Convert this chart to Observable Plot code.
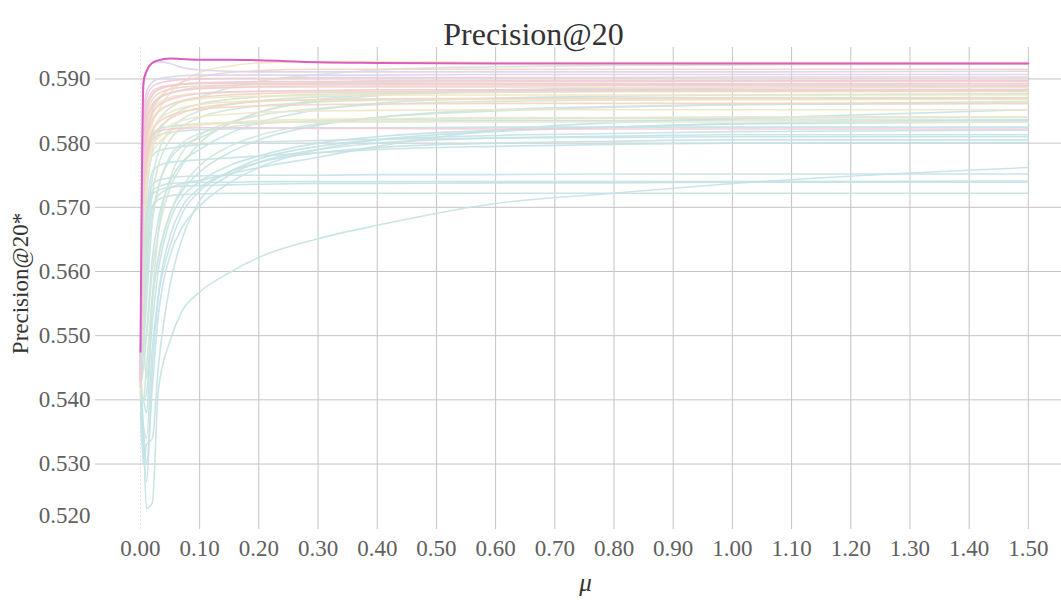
<!DOCTYPE html>
<html><head><meta charset="utf-8">
<script src="https://cdn.jsdelivr.net/npm/d3@7"></script>
<script src="https://cdn.jsdelivr.net/npm/@observablehq/plot@0.6"></script>
<style>body{margin:0;background:#fff}</style>
</head><body><div id="chart"></div>
<script>
// sampled mu values (shared by every series)
const mu = [0, .005, .01, .02, .03, .05, .07, .1, .15, .2, .3, .4, .6, .8, 1.0, 1.5];
const xTicks = [0, 0.1, 0.2, 0.3, 0.4, 0.5, 0.6, 0.7, 0.8, 0.9, 1.0, 1.1, 1.2, 1.3, 1.4, 1.5];
const yTicks = [0.52, 0.53, 0.54, 0.55, 0.56, 0.57, 0.58, 0.59];

// cyan series
const cA = [.546,.535,.5231,.5239,.5414,.5492,.5538,.5568,.5598,.5622,.5651,.5672,.5706,.5722,.5737,.5762];
const cB = [.540,.532,.5273,.5450,.5560,.5655,.5700,.5730,.5755,.5770,.5785,.5793,.5800,.5803,.5805,.5805];
const cC = [.538,.530,.5330,.5340,.5450,.5580,.5650,.5710,.5750,.5770,.5790,.5800,.5808,.5811,.5813,.5813];
const cD = [.541,.536,.5340,.5480,.5560,.5640,.5690,.5725,.5755,.5775,.5795,.5805,.5812,.5815,.5818,.5820];
const cE = [.543,.540,.5410,.5520,.5600,.5680,.5715,.5740,.5765,.5780,.5800,.5810,.5820,.5825,.5830,.5836];
const cF = [.545,.552,.5600,.5700,.5718,.5730,.5737,.5742,.5752,.5762,.5778,.5795,.5820,.5832,.5838,.5852];
const cG = [.545,.558,.5680,.5755,.5765,.5770,.5772,.5774,.5777,.5780,.5785,.5790,.5795,.5798,.5800,.5801];
const cH = [.546,.562,.5720,.5780,.5788,.5792,.5795,.5798,.5800,.5802,.5804,.5806,.5808,.5809,.5810,.5810];
const cI = [.546,.566,.5750,.5805,.5812,.5817,.5819,.5821,.5822,.5823,.5824,.5824,.5825,.5825,.5825,.5825];
const cJ = [.546,.568,.5770,.5815,.5822,.5826,.5828,.5830,.5831,.5832,.5833,.5834,.5835,.5835,.5836,.5836];
const cK = [.543,.548,.5550,.5680,.5730,.5775,.5795,.5808,.5830,.5848,.5868,.5876,.5883,.5886,.5887,.5888];
const cL = [.542,.545,.5500,.5620,.5680,.5740,.5770,.5790,.5815,.5832,.5852,.5862,.5870,.5873,.5875,.5877];
const cM = [.541,.540,.5380,.5550,.5620,.5690,.5725,.5755,.5785,.5805,.5828,.5840,.5852,.5857,.5860,.5862];
const cN = [.540,.535,.5300,.5420,.5530,.5625,.5668,.5702,.5738,.5762,.5790,.5805,.5818,.5825,.5830,.5833];
const cF1 = [.545,.550,.5600,.5700,.5712,.5718,.5720,.5721,.5722,.5722,.5722,.5722,.5722,.5722,.5722,.5722];
const cF2 = [.546,.555,.5650,.5720,.5727,.5731,.5733,.5734,.5735,.5736,.5737,.5737,.5738,.5738,.5739,.5739];
const cF3 = [.546,.556,.5660,.5725,.5732,.5737,.5738,.5739,.5739,.5740,.5740,.5740,.5740,.5740,.5740,.5741];
const cF4 = [.546,.560,.5680,.5735,.5742,.5746,.5748,.5749,.5750,.5750,.5750,.5751,.5751,.5752,.5752,.5752];
// mint series
const g1 = [.540,.562,.5740,.5815,.5835,.5855,.5865,.5872,.5886,.5896,.5907,.5914,.5919,.5921,.5922,.5923];
const g2 = [.545,.560,.5660,.5745,.5785,.5820,.5837,.5850,.5860,.5866,.5872,.5876,.5879,.5881,.5882,.5883];
const g3 = [.544,.556,.5630,.5720,.5765,.5805,.5825,.5840,.5852,.5858,.5864,.5867,.5869,.5870,.5871,.5871];
const g4 = [.543,.552,.5580,.5680,.5730,.5780,.5800,.5815,.5825,.5830,.5835,.5837,.5838,.5839,.5839,.5840];
const g5 = [.545,.565,.5720,.5790,.5815,.5840,.5852,.5861,.5868,.5872,.5876,.5878,.5880,.5881,.5881,.5882];
const g6 = [.541,.548,.5500,.5600,.5660,.5730,.5765,.5800,.5830,.5848,.5865,.5874,.5881,.5884,.5886,.5888];
const g7 = [.542,.540,.5450,.5560,.5620,.5690,.5730,.5765,.5795,.5812,.5830,.5840,.5850,.5856,.5860,.5865];
const g8 = [.546,.548,.5434,.5560,.5660,.5745,.5785,.5812,.5832,.5843,.5854,.5860,.5865,.5867,.5868,.5869];
const g9 = [.546,.574,.5810,.5855,.5868,.5878,.5883,.5887,.5890,.5892,.5894,.5895,.5896,.5896,.5897,.5897];
// yellow series
const yTop = [.545,.570,.5780,.5830,.5850,.5878,.5895,.5910,.5920,.5925,.5927,.5927,.5926,.5926,.5926,.5926];
const y1 = [.544,.578,.5830,.5860,.5870,.5878,.5882,.5885,.5886,.5887,.5887,.5887,.5887,.5887,.5887,.5887];
const y2 = [.543,.574,.5800,.5838,.5850,.5860,.5865,.5869,.5872,.5873,.5874,.5875,.5875,.5875,.5875,.5875];
const y3 = [.542,.570,.5760,.5802,.5815,.5828,.5835,.5841,.5845,.5848,.5850,.5851,.5852,.5852,.5852,.5852];
const y4 = [.541,.566,.5730,.5785,.5800,.5815,.5822,.5828,.5832,.5835,.5837,.5838,.5840,.5840,.5841,.5841];
const y5 = [.543,.572,.5780,.5820,.5835,.5848,.5855,.5860,.5864,.5866,.5867,.5868,.5868,.5868,.5868,.5868];
const y6 = [.542,.568,.5750,.5795,.5808,.5820,.5826,.5830,.5832,.5833,.5833,.5833,.5833,.5833,.5833,.5833];
const y7 = [.545,.580,.5850,.5875,.5883,.5889,.5891,.5893,.5894,.5895,.5896,.5896,.5896,.5896,.5897,.5897];
const y8 = [.544,.576,.5820,.5850,.5862,.5871,.5875,.5878,.5879,.5880,.5880,.5880,.5880,.5880,.5880,.5880];
// peach series
const o1 = [.544,.575,.5800,.5835,.5848,.5860,.5866,.5871,.5875,.5877,.5879,.5880,.5880,.5881,.5881,.5881];
const o2 = [.543,.573,.5780,.5820,.5832,.5843,.5849,.5853,.5856,.5858,.5860,.5861,.5862,.5862,.5862,.5862];
const o3 = [.545,.579,.5840,.5868,.5877,.5884,.5887,.5889,.5890,.5891,.5892,.5892,.5892,.5892,.5892,.5893];
const o4 = [.542,.570,.5760,.5805,.5822,.5838,.5847,.5855,.5861,.5865,.5868,.5869,.5870,.5870,.5870,.5870];
const o5 = [.544,.572,.5800,.5850,.5868,.5885,.5895,.5903,.5910,.5913,.5915,.5915,.5915,.5915,.5915,.5915];
// pink series
const p1 = [.545,.583,.5870,.5888,.5893,.5897,.5899,.5900,.5901,.5901,.5902,.5902,.5902,.5902,.5903,.5903];
const p2 = [.544,.580,.5850,.5875,.5883,.5889,.5892,.5894,.5895,.5896,.5896,.5897,.5897,.5897,.5897,.5897];
const p3 = [.543,.578,.5830,.5860,.5870,.5878,.5882,.5885,.5887,.5888,.5889,.5889,.5889,.5890,.5890,.5890];
const p4 = [.544,.576,.5810,.5845,.5858,.5868,.5873,.5877,.5880,.5881,.5882,.5883,.5883,.5883,.5884,.5884];
const p5 = [.542,.572,.5780,.5812,.5818,.5822,.5823,.5824,.5824,.5824,.5823,.5823,.5822,.5822,.5822,.5822];
const p6 = [.545,.582,.5860,.5880,.5886,.5890,.5892,.5893,.5893,.5893,.5893,.5893,.5893,.5893,.5893,.5893];
// lavender series
const l1 = [.546,.5885,.5908,.5925,.5927,.5924,.5918,.5914,.5912,.5911,.5911,.5911,.5911,.5911,.5911,.5912];
const l2 = [.545,.584,.5880,.5895,.5900,.5903,.5905,.5906,.5906,.5906,.5906,.5906,.5907,.5907,.5907,.5907];
// highlighted series
const best = [.5475,.5895,.5912,.5925,.5929,.5932,.5931,.5930,.5930,.5929,.5926,.5925,.5924,.5924,.5924,.5924];

const groups = ["cyan", "mint", "yellow", "peach", "pink", "lavender"];
const groupColors = ["#c4e2e6", "#cfe5d7", "#eee6c6", "#f3d5c2", "#f1cbd6", "#dbd3ee"];
const series = [
  ["cyan", {cA, cB, cC, cD, cE, cF, cG, cH, cI, cJ, cK, cL, cM, cN, cF1, cF2, cF3, cF4}],
  ["mint", {g1, g2, g3, g4, g5, g6, g7, g8, g9}],
  ["yellow", {yTop, y1, y2, y3, y4, y5, y6, y7, y8}],
  ["peach", {o1, o2, o3, o4, o5}],
  ["pink", {p1, p2, p3, p4, p5, p6}],
  ["lavender", {l1, l2}]
];
const table = [];
for (const [group, obj] of series) {
  for (const [name, vals] of Object.entries(obj)) {
    vals.forEach((v, i) => table.push({series: name, group, mu: mu[i], v}));
  }
}
const bestTable = best.map((v, i) => ({mu: mu[i], v}));

const font = "'Liberation Serif', 'DejaVu Serif', serif";
const chart = Plot.plot({
  width: 1061, height: 600,
  marginLeft: 95, marginRight: 0, marginTop: 47, marginBottom: 71,
  x: {domain: [-0.076, 1.556]},
  y: {domain: [0.5198, 0.5949]},
  color: {domain: groups, range: groupColors},
  style: {fontFamily: font, background: "#fff"},
  marks: [
    Plot.gridX(xTicks.slice(1), {stroke: "#c4c4c4", strokeOpacity: 1}),
    Plot.gridX([0], {stroke: "#e4e4e4", strokeOpacity: 1, strokeDasharray: "2,2"}),
    Plot.gridY(yTicks.slice(1), {stroke: "#c4c4c4", strokeOpacity: 1}),
    Plot.line(table, {x: "mu", y: "v", z: "series", stroke: "group", strokeWidth: 1.6, strokeOpacity: 0.9, curve: "monotone-x"}),
    Plot.line(bestTable, {x: "mu", y: "v", stroke: "#dd5cbf", strokeWidth: 2, curve: "monotone-x"}),
    Plot.axisX(xTicks, {tickSize: 0, tickPadding: 10, tickFormat: d3.format(".2f"), fontSize: 23, fill: "#606060", label: null}),
    Plot.axisY(yTicks.slice(1), {tickSize: 0, tickPadding: 5, tickFormat: d3.format(".3f"), fontSize: 23, fill: "#606060", label: null}),
    Plot.axisY([yTicks[0]], {tickSize: 0, tickPadding: 5, dy: -13, tickFormat: d3.format(".3f"), fontSize: 23, fill: "#606060", label: null}),
    Plot.text(["Precision@20"], {frameAnchor: "top", dy: -25, dx: -45, fontSize: 32, fill: "#333"}),
    Plot.text(["Precision@20*"], {frameAnchor: "left", textAnchor: "middle", dx: -75, dy: -5, rotate: -90, fontSize: 23, fill: "#333"}),
    Plot.text(["μ"], {frameAnchor: "bottom", textAnchor: "middle", dy: 61, dx: 7, fontSize: 25, fontStyle: "italic", fill: "#333"})
  ]
});
document.getElementById("chart").append(chart);
</script>
</body></html>
